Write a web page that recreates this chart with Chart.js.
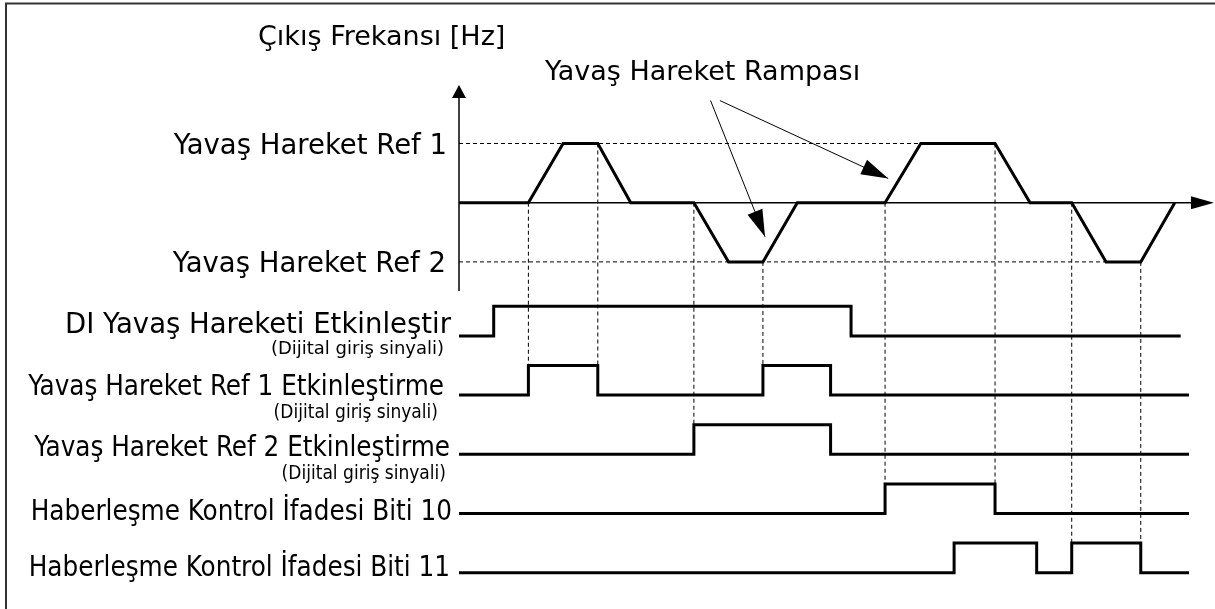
<!DOCTYPE html>
<html>
<head>
<meta charset="utf-8">
<script src="https://cdn.jsdelivr.net/npm/chart.js@4.4.1/dist/chart.umd.min.js"></script>
<style>
    html, body { margin: 0; padding: 0; background: #fff; }
    #wrap { width: 1215px; height: 609px; }
</style>
</head>
<body>
<div id="wrap"><canvas id="timing" width="1215" height="609"></canvas></div>
<script>
// Output frequency: 0 = stopped, +2 = jog ref 1, -2 = jog ref 2
const freqTimes  = [0, 2.0, 3.0, 4.0, 4.95, 6.77, 7.77, 8.76, 9.75, 12.28, 13.31, 15.45, 16.46, 17.66, 18.65, 19.65, 20.63];
const freqValues = [0, 0,   2,   2,   0,    0,    -2,   -2,   0,    0,     2,     2,     0,     0,     -2,    -2,    0];
const ref1Level = 2;
const ref2Level = -2;
const ref1DashEnd = 13.31;
const ref2DashEnd = 18.65;

// Digital signals: time of each change, level from that time on
const diEnableTimes   = [0, 1.0, 11.3, 20.8];
const diEnableLevels  = [0, 1, 0, 0];
const ref1EnableTimes  = [0, 2.0, 4.0, 8.76, 10.71, 21.04];
const ref1EnableLevels = [0, 1, 0, 1, 0, 0];
const ref2EnableTimes  = [0, 6.77, 10.71, 21.04];
const ref2EnableLevels = [0, 1, 0, 0];
const bit10Times  = [0, 12.28, 15.45, 21.04];
const bit10Levels = [0, 1, 0, 0];
const bit11Times  = [0, 14.27, 16.65, 17.66, 19.65, 21.04];
const bit11Levels = [0, 1, 0, 1, 0, 0];

const signalLabels = [
    "DI Yavaş Hareketi Etkinleştir",
    "Yavaş Hareket Ref 1 Etkinleştirme",
    "Yavaş Hareket Ref 2 Etkinleştirme",
    "Haberleşme Kontrol İfadesi Biti 10",
    "Haberleşme Kontrol İfadesi Biti 11"
];
const signalNotes = ["(Dijital giriş sinyali)", "(Dijital giriş sinyali)", "(Dijital giriş sinyali)", "", ""];

// Dashed guides: time, frequency level where they start, signal row they reach
const guideTimes = [2.0, 4.0, 6.77, 8.76, 12.28, 15.45, 17.66, 19.65];
const guideFrom  = [0, 2, 0, -2, 0, 2, 0, -2];
const guideRow   = [1, 1, 2, 1, 3, 3, 4, 4];

const axisTitle = "Çıkış Frekansı [Hz]";
const refLabels = ["Yavaş Hareket Ref 1", "Yavaş Hareket Ref 2"];
const rampLabel = "Yavaş Hareket Rampası";

// layout (value units): low level of each signal row, pulse height
const rowLow = [-4.5, -6.5, -8.5, -10.5, -12.5];
const pulse = 1;

const signals = [
    [diEnableTimes, diEnableLevels],
    [ref1EnableTimes, ref1EnableLevels],
    [ref2EnableTimes, ref2EnableLevels],
    [bit10Times, bit10Levels],
    [bit11Times, bit11Levels]
];

const dashStyle = { borderColor: "#000", borderWidth: 1, borderDash: [4, 3], pointRadius: 0, fill: false };
const datasets = [];

datasets.push({ ...dashStyle, data: [{ x: 0, y: ref1Level }, { x: ref1DashEnd, y: ref1Level }] });
datasets.push({ ...dashStyle, data: [{ x: 0, y: ref2Level }, { x: ref2DashEnd, y: ref2Level }] });

guideTimes.forEach((t, i) => {
    const row = guideRow[i];
    datasets.push({ ...dashStyle, data: [{ x: t, y: guideFrom[i] }, { x: t, y: rowLow[row] + pulse }] });
});

datasets.push({
    data: freqTimes.map((t, i) => ({ x: t, y: freqValues[i] })),
    borderColor: "#000", borderWidth: 3, pointRadius: 0, tension: 0,
    borderJoinStyle: "miter", fill: false
});

signals.forEach(([times, levels], r) => {
    datasets.push({
        data: times.map((t, i) => ({ x: t, y: rowLow[r] + levels[i] * pulse })),
        borderColor: "#000", borderWidth: 3, pointRadius: 0, stepped: true,
        borderJoinStyle: "miter", fill: false
    });
});

function arrowHead(ctx, x0, y0, x1, y1, len, half) {
    const a = Math.atan2(y1 - y0, x1 - x0);
    ctx.beginPath();
    ctx.moveTo(x1, y1);
    ctx.lineTo(x1 - len * Math.cos(a) + half * Math.sin(a), y1 - len * Math.sin(a) - half * Math.cos(a));
    ctx.lineTo(x1 - len * Math.cos(a) - half * Math.sin(a), y1 - len * Math.sin(a) + half * Math.cos(a));
    ctx.closePath();
    ctx.fill();
}

const WIDE = '"DejaVu Sans"';
const NARROW = '"DejaVu Sans Condensed", "DejaVu Sans"';

const diagramPlugin = {
    id: "diagram",
    beforeDatasetsDraw(chart) {
        const { ctx, scales: { x, y } } = chart;
        ctx.save();
        // frame
        ctx.strokeStyle = "#333";
        ctx.lineWidth = 2;
        ctx.strokeRect(6, 3.5, 1400, 800);

        ctx.strokeStyle = "#000";
        ctx.fillStyle = "#000";
        ctx.lineWidth = 1.5;
        // time axis
        const x0 = x.getPixelForValue(0), yb = y.getPixelForValue(0);
        const xEnd = x.getPixelForValue(21.76);
        ctx.beginPath();
        ctx.moveTo(x0, yb);
        ctx.lineTo(xEnd - 18, yb);
        ctx.stroke();
        arrowHead(ctx, x0, yb, xEnd, yb, 23, 6.5);
        // frequency axis
        const yTop = y.getPixelForValue(3.98), yBot = y.getPixelForValue(-2.98);
        ctx.beginPath();
        ctx.moveTo(x0, yBot);
        ctx.lineTo(x0, yTop + 10);
        ctx.stroke();
        arrowHead(ctx, x0, yBot, x0, yTop, 13, 7);
        ctx.restore();
    },
    afterDatasetsDraw(chart) {
        const { ctx, scales: { x, y } } = chart;
        ctx.save();
        ctx.fillStyle = "#000";
        ctx.strokeStyle = "#000";

        ctx.font = "27px " + WIDE;
        ctx.textBaseline = "alphabetic";
        ctx.textAlign = "left";
        ctx.fillText(axisTitle, 258, 45);
        ctx.fillText(rampLabel, 545, 80);
        ctx.textAlign = "right";
        ctx.font = "27.5px " + WIDE;
        ctx.fillText(refLabels[0], 447, y.getPixelForValue(ref1Level) + 10);
        ctx.fillText(refLabels[1], 446, y.getPixelForValue(ref2Level) + 10);

        // ramp arrows
        ctx.lineWidth = 1;
        const arrows = [[7.25, 3.45, 8.82, -1.15], [7.52, 3.45, 12.37, 0.82]];
        arrows.forEach(([t0, v0, t1, v1]) => {
            const ax = x.getPixelForValue(t0), ay = y.getPixelForValue(v0);
            const bx = x.getPixelForValue(t1), by = y.getPixelForValue(v1);
            ctx.beginPath();
            ctx.moveTo(ax, ay);
            ctx.lineTo(bx, by);
            ctx.stroke();
            arrowHead(ctx, ax, ay, bx, by, 27, 8);
        });

        // signal labels
        const fonts = [WIDE, NARROW, NARROW, NARROW, NARROW];
        const baseShift = [-3, 0, 2, 6, 3];
        const right = [451, 444, 450, 452, 450];
        const noteRight = [444, 438, 446];
        const noteSize = [18, 19, 19];
        const noteGap = [21, 23, 23];
        signalLabels.forEach((label, r) => {
            const low = y.getPixelForValue(rowLow[r]);
            ctx.textAlign = "right";
            ctx.font = "27.5px " + fonts[r];
            ctx.fillText(label, right[r], low + baseShift[r]);
            if (signalNotes[r]) {
                ctx.font = noteSize[r] + "px " + fonts[r];
                ctx.fillText(signalNotes[r], noteRight[r], low + baseShift[r] + noteGap[r]);
            }
        });
        ctx.restore();
    }
};

new Chart(document.getElementById("timing"), {
    type: "line",
    data: { datasets },
    options: {
        responsive: false,
        animation: false,
        layout: { padding: 0 },
        plugins: { legend: { display: false }, tooltip: { enabled: false } },
        scales: {
            x: { type: "linear", display: false, min: -13.23, max: 21.79 },
            y: { type: "linear", display: false, min: -13.726, max: 6.848 }
        }
    },
    plugins: [diagramPlugin]
});
</script>
</body>
</html>
